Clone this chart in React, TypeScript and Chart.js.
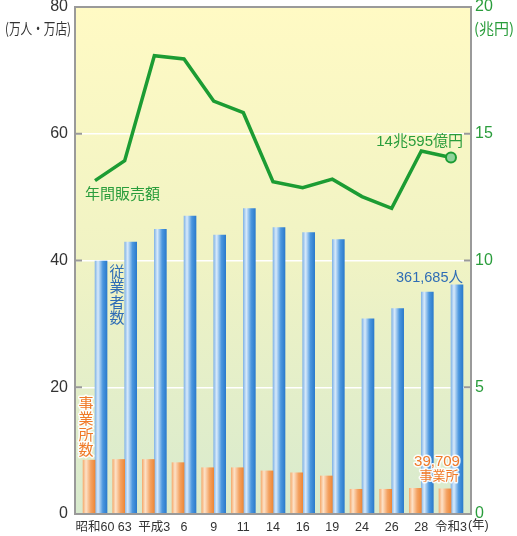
import React, { useEffect, useRef } from 'react';
import { Chart, registerables } from 'chart.js';

Chart.register(...registerables);

// ---- data ----
const categories = ['昭和60', '63', '平成3', '6', '9', '11', '14', '16', '19', '24', '26', '28', '令和3'];
const years = ['1985', '1988', '1991', '1994', '1997', '1999', '2002', '2004', '2007', '2012', '2014', '2016', '2021'];
// 事業所数 (万店)
const establishments = [8.5, 8.6, 8.6, 8.1, 7.3, 7.3, 6.8, 6.5, 6.0, 3.9, 3.9, 4.05, 3.97];
// 従業者数 (万人)
const employees = [39.9, 42.9, 44.9, 47.0, 44.0, 48.2, 45.2, 44.4, 43.3, 30.8, 32.4, 35.0, 36.17];
// 年間販売額 (兆円)
const sales = [13.15, 13.94, 18.08, 17.95, 16.29, 15.83, 13.11, 12.87, 13.21, 12.52, 12.06, 14.32, 14.06];
const leftTicks = [0, 20, 40, 60, 80];
const rightTicks = [0, 5, 10, 15, 20];

const FONT_NUM = "'Liberation Sans', Arial, sans-serif";
const FONT_JP = "'Noto Sans CJK JP', sans-serif";
const FONT_NARROW = "'Liberation Sans Narrow', 'Liberation Sans', 'Noto Sans CJK JP', sans-serif";
const X_FONT_SIZE = 12.5;

const GREEN = '#1c9c33';
const GREEN_TEXT = '#2a9d3c';
const BLUE_TEXT = '#2f6db5';
const ORANGE_TEXT = '#f07a28';
const BAR_W = 12;

function barFill(which: number) {
  return (ctx: any) => {
    const chart = ctx.chart;
    const xs = chart.scales && chart.scales.x;
    const fallback = which === 0 ? '#f39a52' : '#3b8fdc';
    if (!xs || ctx.type !== 'data' || !isFinite(xs.getPixelForValue(0))) return fallback;
    const c = xs.getPixelForValue(ctx.dataIndex);
    const left = which === 0 ? c - BAR_W : c;
    const g = chart.ctx.createLinearGradient(left, 0, left + BAR_W, 0);
    if (which === 0) {
      g.addColorStop(0, '#f5ad72');
      g.addColorStop(0.25, '#fde2c8');
      g.addColorStop(0.65, '#f4a262');
      g.addColorStop(1, '#ee8838');
    } else {
      g.addColorStop(0, '#86b6e6');
      g.addColorStop(0.25, '#d8eafb');
      g.addColorStop(0.65, '#4b97df');
      g.addColorStop(1, '#2c7bcc');
    }
    return g;
  };
}

const bgPlugin = {
  id: 'bgPlugin',
  beforeDraw(chart: any) {
    const { ctx, chartArea: a } = chart;
    ctx.save();
    ctx.fillStyle = '#ffffff';
    ctx.fillRect(0, 0, chart.width, chart.height);
    const g = ctx.createLinearGradient(0, a.top, 0, a.bottom);
    g.addColorStop(0, '#fffac4');
    g.addColorStop(0.5, '#f0f3c4');
    g.addColorStop(1, '#d8eace');
    ctx.fillStyle = g;
    ctx.fillRect(a.left, a.top, a.right - a.left, a.bottom - a.top);
    ctx.restore();
  },
};

function vText(ctx: any, text: string, cx: number, top: number, step: number) {
  for (let i = 0; i < text.length; i++) {
    const y = top + step * i + step / 2;
    ctx.strokeText(text[i], cx, y);
    ctx.fillText(text[i], cx, y);
  }
}

const framePlugin = {
  id: 'framePlugin',
  afterDatasetsDraw(chart: any) {
    const { ctx, chartArea: a, scales } = chart;
    ctx.save();
    ctx.strokeStyle = '#9a9a9a';
    ctx.lineWidth = 2;
    leftTicks.forEach((v) => {
      const y = scales.y.getPixelForValue(v);
      ctx.beginPath();
      ctx.moveTo(a.left, y);
      ctx.lineTo(a.left + 7, y);
      ctx.stroke();
    });
    rightTicks.forEach((v) => {
      const y = scales.y1.getPixelForValue(v);
      ctx.beginPath();
      ctx.moveTo(a.right - 7, y);
      ctx.lineTo(a.right, y);
      ctx.stroke();
    });
    ctx.strokeRect(a.left, a.top, a.right - a.left, a.bottom - a.top);
    ctx.restore();
  },
  afterDraw(chart: any) {
    const { ctx, chartArea: a, scales } = chart;
    const xs = scales.x, yl = scales.y, yr = scales.y1;
    const last = categories.length - 1;
    ctx.save();
    ctx.textBaseline = 'middle';
    ctx.lineJoin = 'round';

    // axis titles
    ctx.font = `15px ${FONT_JP}`;
    ctx.fillStyle = '#333333';
    ctx.textAlign = 'right';
    ctx.fillText('(万人・万店)', a.left - 4, 28, 66);
    ctx.fillStyle = GREEN_TEXT;
    ctx.textAlign = 'left';
    ctx.fillText('(兆円)', a.right + 3, 28, 42);

    // year unit after last tick label
    ctx.fillStyle = '#333333';
    ctx.font = `${X_FONT_SIZE}px ${FONT_NARROW}`;
    const lw = ctx.measureText(categories[last]).width;
    ctx.fillText('(年)', xs.getPixelForValue(last) + lw / 2 + 1, a.bottom + 12);

    // line labels
    ctx.font = `15px ${FONT_JP}`;
    ctx.fillStyle = GREEN_TEXT;
    ctx.textAlign = 'left';
    ctx.fillText('年間販売額', xs.getPixelForValue(0) - 10, yr.getPixelForValue(sales[0]) + 13, 78);
    ctx.textAlign = 'right';
    ctx.font = `15px ${FONT_NARROW}`;
    ctx.fillText('14兆595億円', xs.getPixelForValue(last) + 12, yr.getPixelForValue(sales[last]) - 16, 88);

    // employees labels
    ctx.fillStyle = BLUE_TEXT;
    ctx.font = `15px ${FONT_NARROW}`;
    ctx.textAlign = 'right';
    ctx.fillText('361,685人', xs.getPixelForValue(last) + 12, yl.getPixelForValue(employees[last]) - 7, 67);
    ctx.textAlign = 'center';
    ctx.font = `15px ${FONT_JP}`;
    ctx.strokeStyle = 'rgba(255,255,255,0)';
    ctx.lineWidth = 0.01;
    vText(ctx, '従業者数', xs.getPixelForValue(0) + 22, yl.getPixelForValue(employees[0]) + 2, 15.5);

    // establishments labels (with white halo)
    ctx.fillStyle = ORANGE_TEXT;
    ctx.strokeStyle = 'rgba(255,255,255,0.9)';
    ctx.lineWidth = 3;
    ctx.font = `15px ${FONT_JP}`;
    ctx.textAlign = 'center';
    vText(ctx, '事業所数', xs.getPixelForValue(0) - 9, yl.getPixelForValue(establishments[0]) - 3 - 15.5 * 4, 15.5);
    const ex = xs.getPixelForValue(last) - 14;
    const ey = yl.getPixelForValue(establishments[last]);
    ctx.font = `15px ${FONT_NARROW}`;
    ctx.strokeText('39,709', ex, ey - 27, 46);
    ctx.fillText('39,709', ex, ey - 27, 46);
    ctx.font = `13px ${FONT_JP}`;
    ctx.strokeText('事業所', ex + 2, ey - 14, 40);
    ctx.fillText('事業所', ex + 2, ey - 14, 40);
    ctx.restore();
  },
};

const zeroPad = (s: any) => {
  s.paddingLeft = 0;
  s.paddingRight = 0;
  s.paddingTop = 0;
  s.paddingBottom = 0;
};

export default function App() {
  const ref = useRef<HTMLCanvasElement | null>(null);

  useEffect(() => {
    const canvas = ref.current;
    if (!canvas) return;
    const chart = new Chart(canvas, {
      data: {
        datasets: [
          {
            type: 'line',
            label: '年間販売額',
            yAxisID: 'y1',
            data: sales.map((v, i) => ({ x: i, y: v })),
            borderColor: GREEN,
            borderWidth: 3.5,
            tension: 0,
            pointRadius: sales.map((_, i) => (i === sales.length - 1 ? 5 : 0)),
            pointBackgroundColor: '#8fd39b',
            pointBorderColor: GREEN,
            pointBorderWidth: 2,
            order: 0,
          } as any,
          {
            type: 'bar',
            label: '事業所数',
            yAxisID: 'y',
            data: establishments.map((v, i) => ({ x: i, y: v })),
            backgroundColor: barFill(0),
            borderWidth: 0,
            barThickness: BAR_W,
            order: 1,
          } as any,
          {
            type: 'bar',
            label: '従業者数',
            yAxisID: 'y',
            data: employees.map((v, i) => ({ x: i, y: v })),
            backgroundColor: barFill(1),
            borderWidth: 0,
            barThickness: BAR_W,
            order: 1,
          } as any,
        ],
      },
      options: {
        responsive: false,
        animation: false,
        devicePixelRatio: 1,
        layout: { autoPadding: false, padding: { top: 7, left: 0, right: 0, bottom: 0 } },
        plugins: {
          legend: { display: false },
          tooltip: { enabled: false },
        },
        scales: {
          x: {
            type: 'linear',
            offset: false,
            min: -0.675,
            max: 12.675,
            afterBuildTicks: (s: any) => {
              s.ticks = categories.map((_, i) => ({ value: i }));
            },
            afterFit: (s: any) => {
              s.height = 36;
              zeroPad(s);
            },
            grid: { display: false, drawTicks: false, offset: false },
            border: { display: false },
            ticks: {
              autoSkip: false,
              maxRotation: 0,
              minRotation: 0,
              padding: 5,
              color: '#333333',
              font: { size: X_FONT_SIZE, family: FONT_NARROW, lineHeight: 1.3 },
              callback: (_v: any, i: number) => [categories[i], years[i]],
            },
          },
          y: {
            type: 'linear',
            position: 'left',
            min: 0,
            max: 80,
            afterFit: (s: any) => {
              s.width = 75;
              zeroPad(s);
            },
            grid: {
              drawTicks: false,
              lineWidth: 1.5,
              color: (c: any) => (c.tick && (c.tick.value === 0 || c.tick.value === 80) ? 'rgba(0,0,0,0)' : '#ffffff'),
            },
            border: { display: false },
            ticks: {
              stepSize: 20,
              padding: 7,
              color: '#333333',
              font: { size: 16, family: FONT_NUM },
            },
          },
          y1: {
            type: 'linear',
            position: 'right',
            min: 0,
            max: 20,
            afterFit: (s: any) => {
              s.width = 46;
              zeroPad(s);
            },
            grid: { drawOnChartArea: false, drawTicks: false },
            border: { display: false },
            ticks: {
              stepSize: 5,
              padding: 4,
              color: GREEN_TEXT,
              font: { size: 16, family: FONT_NUM },
            },
          },
        },
      } as any,
      plugins: [bgPlugin, framePlugin],
    });
    return () => chart.destroy();
  }, []);

  return (
    <div
      style={{
        position: 'fixed',
        left: 0,
        top: 0,
        width: 517,
        height: 536,
        overflow: 'hidden',
        background: '#ffffff',
      }}
    >
      <canvas ref={ref} width={517} height={550} style={{ display: 'block', width: 517, height: 550 }} />
    </div>
  );
}
